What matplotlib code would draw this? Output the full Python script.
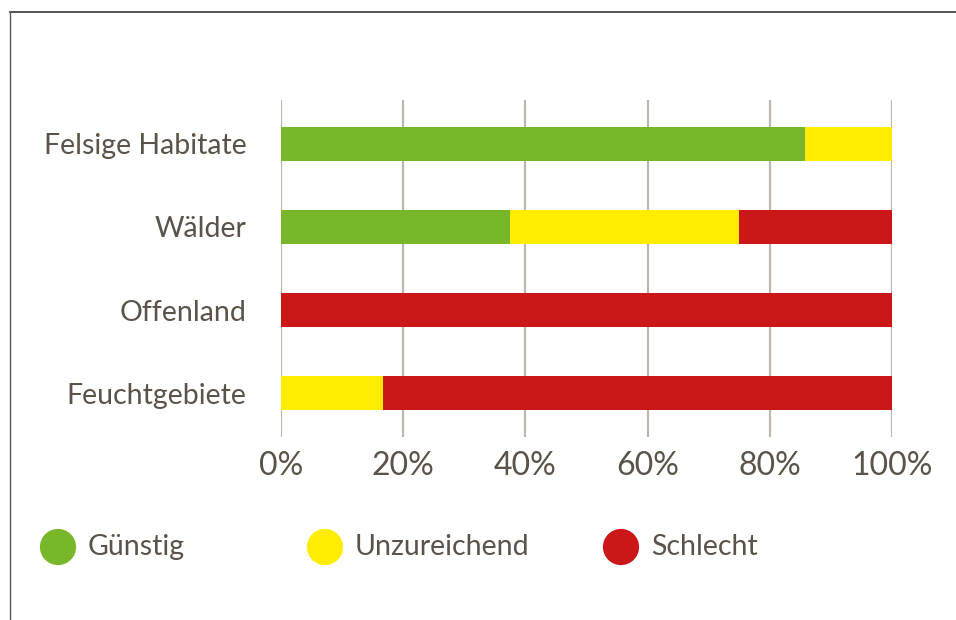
import matplotlib.pyplot as plt
from matplotlib.lines import Line2D

# data (share of habitat types per conservation status, %)
habitats = ['Felsige Habitate', 'Wälder', 'Offenland', 'Feuchtgebiete']
guenstig = [85.7, 37.5, 0.0, 0.0]
unzureichend = [14.3, 37.5, 0.0, 16.7]
schlecht = [0.0, 25.0, 100.0, 83.3]
status_labels = ['Günstig', 'Unzureichend', 'Schlecht']
colors = ['#78b72a', '#ffec00', '#cc1719']
xticks = [0, 20, 40, 60, 80, 100]

text_color = '#5b5249'
plt.rcParams['font.family'] = ['Lato', 'DejaVu Sans']

fig = plt.figure(figsize=(9.56, 6.2), dpi=100)
W, H = 956, 620
ax = fig.add_axes([281 / W, 1 - 437 / H, (892 - 281) / W, (437 - 100) / H])

y = list(range(len(habitats)))
left = [0.0] * len(habitats)
for vals, c in zip([guenstig, unzureichend, schlecht], colors):
    ax.barh(y, vals, left=left, height=0.41, color=c, zorder=3)
    left = [l + v for l, v in zip(left, vals)]

ax.set_xlim(0, 100)
ax.set_ylim(len(habitats) - 0.47, -0.53)
ax.set_xticks(xticks)
ax.set_xticklabels([f'{t}%' for t in xticks], fontsize=23, color=text_color)
ax.set_yticks(y)
ax.set_yticklabels(habitats, fontsize=20.5, color=text_color)
ax.tick_params(axis='y', length=0, pad=25)
ax.tick_params(axis='x', length=0, pad=10)
ax.xaxis.grid(True, color='#bdb7b0', linewidth=1.6, zorder=0)
for s in ax.spines.values():
    s.set_visible(False)

# legend drawn in pixel coordinates
lax = fig.add_axes([0, 0, 1, 1], zorder=-1)
lax.set_xlim(0, W)
lax.set_ylim(H, 0)
lax.axis('off')
leg_x = [58, 325, 621]
for lx, lab, c in zip(leg_x, status_labels, colors):
    lax.scatter([lx], [547], s=680, color=c, edgecolors='none')
    lax.text(lx + 30, 547, lab, fontsize=20.5, color=text_color, va='center', ha='left')

# frame lines (top and left only)
fig.add_artist(Line2D([9.5 / W, 1], [1 - 11.5 / H, 1 - 11.5 / H], color='#333333', linewidth=1.2))
fig.add_artist(Line2D([9.5 / W, 9.5 / W], [0, 1 - 11.5 / H], color='#555555', linewidth=1.0))

fig.savefig('out.png', dpi=100, facecolor='white')
